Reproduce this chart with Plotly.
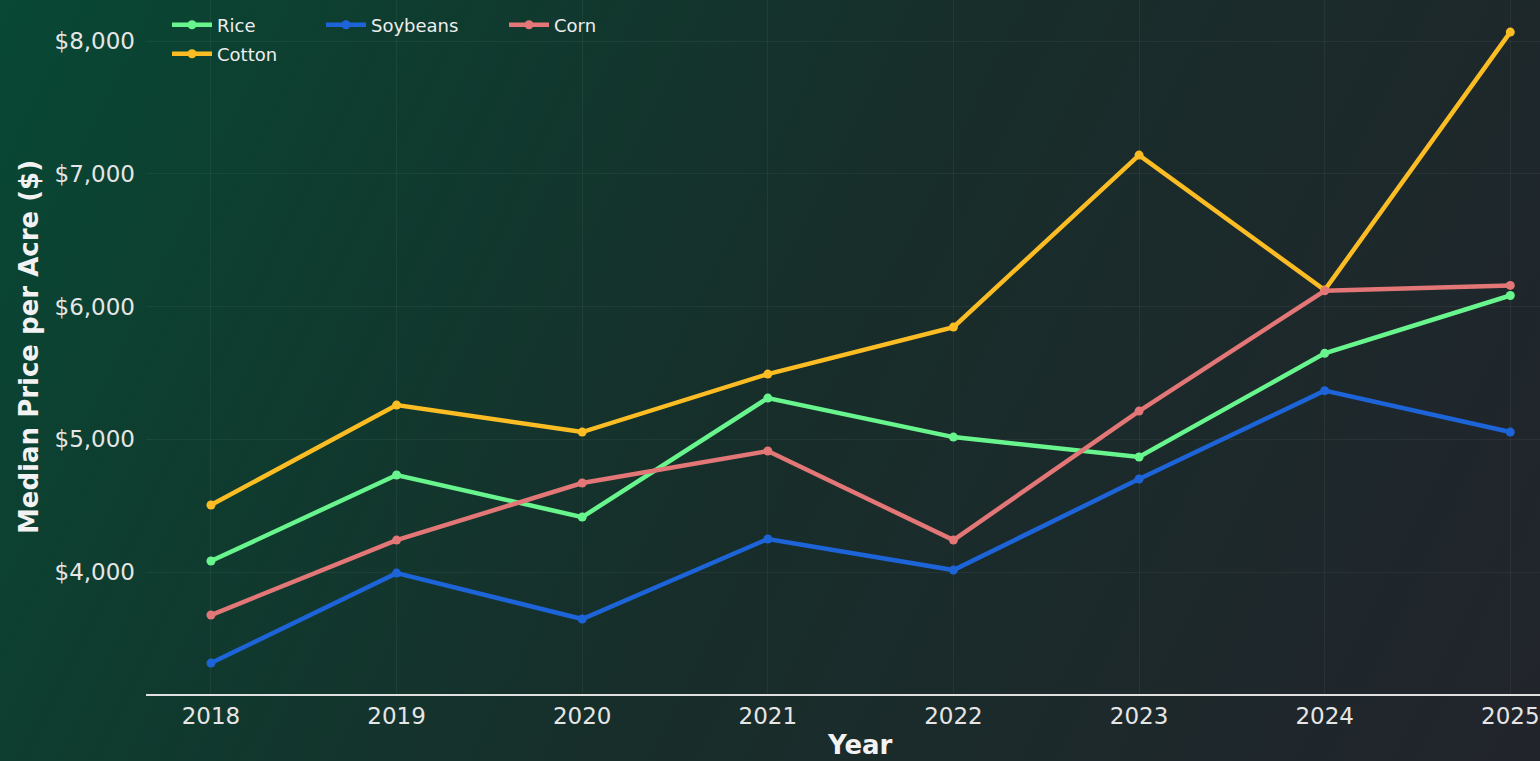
import base64
import plotly.graph_objects as go

years = [2018, 2019, 2020, 2021, 2022, 2023, 2024, 2025]
rice = [4083, 4731, 4414, 5311, 5017, 4867, 5648, 6084]
cotton = [4505, 5258, 5055, 5492, 5846, 7142, 6125, 8069]
soybeans = [3314, 3992, 3646, 4249, 4015, 4701, 5367, 5055]
corn = [3676, 4241, 4671, 4912, 4241, 5213, 6120, 6160]

W, H = 1540, 761
ML, MR, MT, MB = 146, 0, 0, 67
pw, ph = W - ML - MR, H - MT - MB

# background gradient (green top-left -> slate bottom-right) as an svg image
svg = ('<svg xmlns="http://www.w3.org/2000/svg" width="1540" height="761" viewBox="0 0 1540 761" preserveAspectRatio="none">'
       '<defs><linearGradient id="g" x1="0" y1="0" x2="1540" y2="761" gradientUnits="userSpaceOnUse">'
       '<stop offset="0" stop-color="#084834"/>'
       '<stop offset="0.5" stop-color="#172e2a"/>'
       '<stop offset="1" stop-color="#22242c"/>'
       '</linearGradient></defs>'
       '<rect width="1540" height="761" fill="url(#g)"/></svg>')
bg_src = 'data:image/svg+xml;base64,' + base64.b64encode(svg.encode()).decode()

font = 'DejaVu Sans, Verdana, sans-serif'
series = [
    ('Rice', rice, '#69f58e', 'legend'),
    ('Cotton', cotton, '#fbbd23', 'legend2'),
    ('Soybeans', soybeans, '#1d64d8', 'legend3'),
    ('Corn', corn, '#e37676', 'legend4'),
]

fig = go.Figure()
for name, vals, col, lg in series:
    fig.add_trace(go.Scatter(x=years, y=vals, name=name, mode='lines+markers',
                             line=dict(color=col, width=4.5),
                             marker=dict(color=col, size=9),
                             legend=lg))

def leg(px, py):
    return dict(x=(px - ML) / pw, y=1 - (py - MT) / ph, xanchor='left', yanchor='middle',
                bgcolor='rgba(0,0,0,0)', font=dict(family=font, size=18, color='#eeeeee'),
                itemwidth=40)

fig.update_layout(
    width=W, height=H,
    margin=dict(l=ML, r=MR, t=MT, b=MB),
    paper_bgcolor='#172e2a',
    plot_bgcolor='rgba(0,0,0,0)',
    font=dict(family=font, color='#e6e6e6'),
    showlegend=True,
    legend=leg(167, 25),
    legend2=leg(167, 54),
    legend3=leg(321, 25),
    legend4=leg(504, 25),
    images=[dict(source=bg_src, xref='paper', yref='paper',
                 x=-ML / pw, y=1 + MT / ph, sizex=W / pw, sizey=H / ph,
                 xanchor='left', yanchor='top', sizing='stretch', layer='below')],
    # x title as annotation so it sits where the reference has it
    annotations=[dict(text='<b>Year</b>', xref='paper', yref='paper',
                      x=(860 - ML) / pw, y=-(745 - MT - ph) / ph,
                      xanchor='center', yanchor='middle', showarrow=False,
                      font=dict(family=font, size=26, color='#f2f2f2'))],
    xaxis=dict(range=[2017.65, 2025.16], tickvals=years, showgrid=True,
               gridcolor='rgba(255,255,255,0.05)', zeroline=False,
               showline=True, linecolor='#e0e0e0', linewidth=2,
               tickfont=dict(size=23, color='#e6e6e6'), ticks=''),
    yaxis=dict(range=[3081, 8311], dtick=1000, tick0=0, tickprefix='$', tickformat=',',
               showgrid=True, gridcolor='rgba(255,255,255,0.05)', zeroline=False,
               showline=False, ticks='', ticklabelstandoff=10,
               tickfont=dict(size=23, color='#e6e6e6'),
               title=dict(text='<b>Median Price per Acre ($)</b>', font=dict(size=26, color='#f2f2f2'), standoff=8)),
)

fig.write_html('out.html', config={'displayModeBar': False},
               post_script="document.body.style.margin='0';")
